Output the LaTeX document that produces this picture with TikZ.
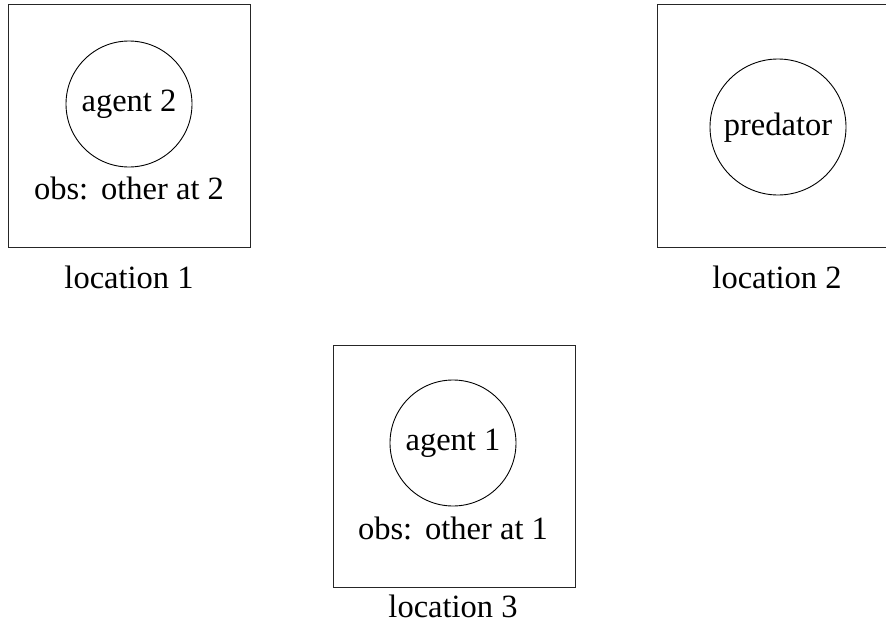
\documentclass[tikz,border=0pt]{standalone}
\usepackage{fontspec}
\setmainfont{Liberation Serif}
\begin{document}
\begin{tikzpicture}[x=1pt,y=-1pt,
  cell/.style={draw, line width=1pt, black!85},
  token/.style={draw, circle, line width=0.9pt},
  lbl/.style={anchor=base, inner sep=0pt, font=\fontsize{32.5}{40}\selectfont}]
\useasboundingbox (0,0) rectangle (886,634);
\clip (0,0) rectangle (886,634);
% the three locations
\draw[cell] (8,5) rectangle (250,247);
\draw[cell] (657,5) rectangle (899,247);
\draw[cell] (333,345) rectangle (575,587);
% location 1
\node[token, minimum size=126pt] (a2) at (129,104) {};
\node[lbl] (a2t) at (129,111) {agent 2};
\node[lbl] (o1) at (129,199) {obs:\hspace{0.4em}other at 2};
\node[lbl] (l1) at (129,288) {location 1};
% location 2
\node[token, minimum size=136pt] (pr) at (778,127) {};
\node[lbl] (prt) at (778,135) {predator};
\node[lbl] (l2) at (777,288) {location 2};
% location 3
\node[token, minimum size=126pt] (a1) at (453,443) {};
\node[lbl] (a1t) at (453,450) {agent 1};
\node[lbl] (o3) at (453,539) {obs:\hspace{0.4em}other at 1};
\node[lbl] (l3) at (453,617) {location 3};
\end{tikzpicture}
\end{document}
